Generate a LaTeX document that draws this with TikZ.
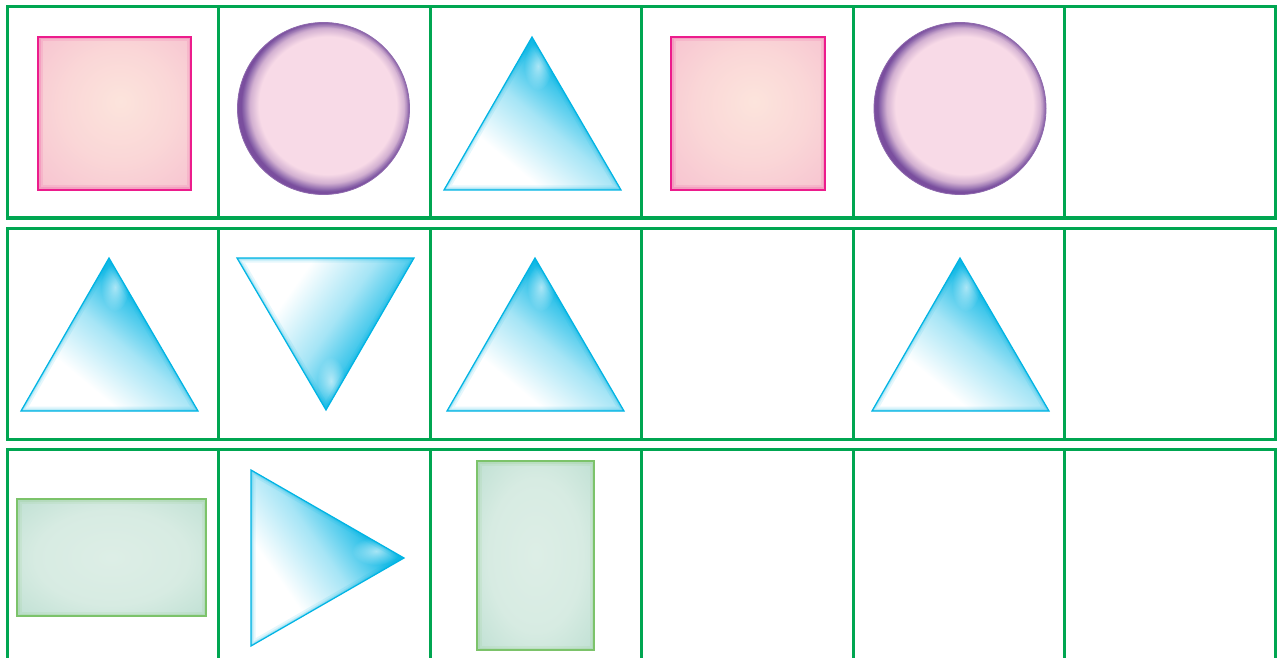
\documentclass[tikz,border=0pt]{standalone}
\usetikzlibrary{calc,fadings}
\definecolor{gridgreen}{HTML}{00A651}
\definecolor{tcyan}{HTML}{00B4E4}
\definecolor{cpink}{HTML}{F8DAE7}
\definecolor{cpurple}{HTML}{7A4E9E}
\definecolor{speach}{HTML}{FCE4DC}
\definecolor{spink}{HTML}{F7C3D0}
\definecolor{smagenta}{HTML}{EC1C8C}
\definecolor{gcenter}{HTML}{DDEEE6}
\definecolor{gcorner}{HTML}{BFE0D3}
\definecolor{gborder}{HTML}{7CC36A}
\pgfdeclareverticalshading{trishade}{100bp}{color(0bp)=(white); color(34bp)=(white); color(50bp)=(tcyan!35); color(63bp)=(tcyan!85); color(72bp)=(tcyan); color(100bp)=(tcyan)}
\pgfdeclareradialshading{ballshade}{\pgfpoint{2bp}{1.5bp}}{color(0bp)=(cpink); color(20bp)=(cpink); color(22.5bp)=(cpurple!30!cpink); color(24.3bp)=(cpurple!85); color(25bp)=(cpurple); color(50bp)=(cpurple)}
\pgfdeclareradialshading{sqshade}{\pgfpoint{2bp}{4bp}}{color(0bp)=(speach); color(18bp)=(speach!60!spink); color(36bp)=(spink); color(50bp)=(spink)}
\pgfdeclareradialshading{grshade}{\pgfpoint{0bp}{0bp}}{color(0bp)=(gcenter); color(20bp)=(gcenter!80!gcorner); color(36bp)=(gcorner); color(50bp)=(gcorner)}
\tikzset{
  gridline/.style={draw=gridgreen, line width=3bp},
  tri/.style={shading=trishade},
  triedge/.style={draw=tcyan, line width=1.2bp, line join=miter},
  ball/.style={shading=ballshade},
  balledge/.style={draw=cpurple!85, line width=0.8bp},
  pinksq/.style={shading=sqshade},
  pinkedge/.style={draw=smagenta, line width=1.3bp},
  greenrect/.style={shading=grshade},
  greenedge/.style={draw=gborder, line width=1.4bp},
  glowa/.style={line width=9bp, opacity=0.10},
  glowb/.style={line width=5bp, opacity=0.15},
  glowc/.style={line width=2.5bp, opacity=0.25},
  hilite/.style={fill=white, path fading=fuzzy, fill opacity=0.6},
}
\tikzfading[name=fuzzy, inner color=transparent!0, outer color=transparent!100]
% #1 fill style, #2 glow colour, #3 edge style, #4 path, #5 extra drawing inside
\newcommand\glowshape[5]{%
  \begin{scope}
    \clip #4;
    \shade[#1] #4;
    #5
    \draw[glowa, #2] #4;
    \draw[glowb, #2] #4;
    \draw[glowc, #2] #4;
  \end{scope}
  \draw[#3] #4;
}
\begin{document}
\begin{tikzpicture}[x=1bp,y=-1bp]
\useasboundingbox (0,0) rectangle (1279,658);
\fill[white] (0,0) rectangle (1279,658);
% grid
\foreach \ya/\yb in {7/218, 228/439}{
  \draw[gridline] (7,\ya) rectangle (1275,\yb);
  \foreach \x in {218,430,641,853,1064}{
    \draw[gridline] (\x,\ya) -- (\x,\yb);
  }
}
\draw[gridline] (7,670) -- (7,449) -- (1275,449) -- (1275,670);
\foreach \x in {218,430,641,853,1064}{
  \draw[gridline] (\x,449) -- (\x,670);
}
% row 1
\glowshape{pinksq}{smagenta}{pinkedge}{(38,37) rectangle (191,190)}{}
\glowshape{ball}{cpurple}{balledge}{(323.5,108.5) circle (86)}{}
\glowshape{tri, shading angle=-40}{tcyan}{triedge}{(532,37) -- (621,190) -- (444,190) -- cycle}{\fill[hilite] (538,66) ellipse (14 and 24);}
\glowshape{pinksq}{smagenta}{pinkedge}{(671,37) rectangle (825,190)}{}
\glowshape{ball}{cpurple}{balledge}{(960,108.5) circle (86)}{}
% row 2
\glowshape{tri, shading angle=-40}{tcyan}{triedge}{(109,258) -- (198,411) -- (21,411) -- cycle}{\fill[hilite] (115,287) ellipse (14 and 24);}
\glowshape{tri, shading angle=-125}{tcyan}{triedge}{(237,258) -- (414,258) -- (326,410) -- cycle}{\fill[hilite] (331,381) ellipse (14 and 24);}
\glowshape{tri, shading angle=-40}{tcyan}{triedge}{(535,258) -- (624,411) -- (447,411) -- cycle}{\fill[hilite] (541,287) ellipse (14 and 24);}
\glowshape{tri, shading angle=-40}{tcyan}{triedge}{(960,258) -- (1049,411) -- (872,411) -- cycle}{\fill[hilite] (966,287) ellipse (14 and 24);}
% row 3
\glowshape{greenrect}{gborder}{greenedge}{(17,499) rectangle (206,616)}{}
\glowshape{tri, shading angle=-55}{tcyan}{triedge}{(251,470) -- (404,558) -- (251,646) -- cycle}{\fill[hilite] (376,551) ellipse (24 and 14);}
\glowshape{greenrect}{gborder}{greenedge}{(477,461) rectangle (594,650)}{}
\end{tikzpicture}
\end{document}
